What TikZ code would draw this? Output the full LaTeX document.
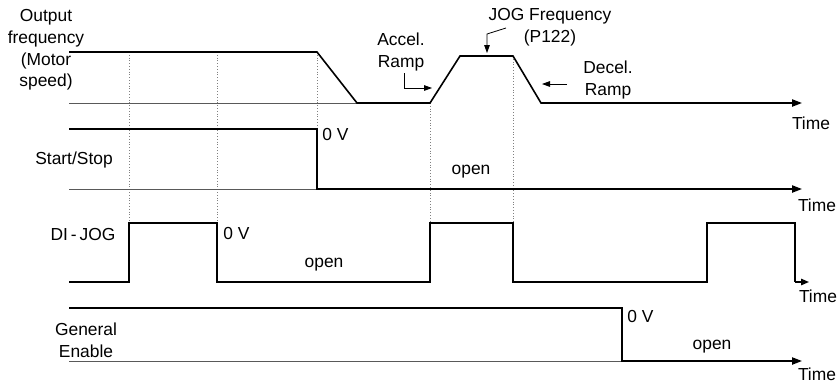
\documentclass[tikz,border=0pt]{standalone}
\usepackage{fontspec}
\setmainfont{Liberation Sans}
\usetikzlibrary{arrows.meta}

\tikzset{
  sig/.style={line width=0.8pt},
  axisline/.style={line width=0.4pt,gray!70!black},
  guide/.style={densely dotted,line width=0.4pt,gray},
  timearrow/.style={-{Triangle[length=5pt,width=3.6pt]}},
  annot/.style={line width=0.4pt,-{Triangle[length=4pt,width=2.8pt]}},
  lbl/.style={font=\fontsize{8.7}{10.8}\selectfont,inner sep=1pt,align=center},
}

\begin{document}
\begin{tikzpicture}[x=0.5pt,y=-0.5pt]
\useasboundingbox (0,0) rectangle (839,387);

% guide lines
\draw[guide] (129,52) -- (129,223);
\draw[guide] (217,52) -- (217,223);
\draw[guide] (317,52) -- (317,129);
\draw[guide] (430,103) -- (430,223);
\draw[guide] (513,56) -- (513,223);

% output frequency
\draw[axisline] (69,103) -- (357,103);
\draw[sig,timearrow] (69,52) -- (317,52) -- (357,103) -- (430,103) -- (460,56)
  -- (513,56) -- (541,103) -- (802,103);

% start/stop
\draw[axisline] (69,189) -- (317,189);
\draw[sig,timearrow] (69,129) -- (317,129) -- (317,189) -- (802,189);

% DI-JOG
\draw[sig] (69,282) -- (129,282) -- (129,223) -- (217,223) -- (217,282)
  -- (430,282) -- (430,223) -- (513,223) -- (513,282) -- (707,282) -- (707,223)
  -- (795,223) -- (795,282);
\draw[sig,-{Triangle[length=4pt,width=3.2pt]}] (795,282) -- (809,282);

% general enable
\draw[axisline] (69,361) -- (622,361);
\draw[sig,timearrow] (69,308) -- (622,308) -- (622,361) -- (802,361);

\node[lbl] (outfreq) at (46,50) {Output\\frequency\\(Motor\\speed)};
\node[lbl] (startstop) at (74,160) {Start/Stop};
\node[lbl] (dijog) at (83,235) {DI\,-\,JOG};
\node[lbl] (genable) at (86,340) {General\\Enable};

\node[lbl,anchor=west] (ssvolt) at (320,135) {0 V};
\node[lbl,anchor=west] (jogvolt) at (221,233) {0 V};
\node[lbl,anchor=west] (gevolt) at (625,316) {0 V};

\node[lbl] (ssopen) at (471,172) {open};
\node[lbl] (jogopen) at (324,265) {open};
\node[lbl] (geopen) at (712,347) {open};

\node[lbl] (time1) at (811,123) {Time};
\node[lbl] (time2) at (817,205) {Time};
\node[lbl] (time3) at (818,296) {Time};
\node[lbl] (time4) at (817,374) {Time};

\node[lbl] (accel) at (401,52) {Accel.\\Ramp};
\node[lbl] (jogfreq) at (550,27) {JOG Frequency\\(P122)};
\node[lbl] (decel) at (608,80) {Decel.\\Ramp};

% annotation arrows
\coordinate (accelpt) at (432,88);
\coordinate (jogstart) at (506,28);
\coordinate (jogbend) at (487,34);
\coordinate (jogpt) at (487,53);
\coordinate (decelstart) at (567,84);
\coordinate (decelpt) at (542,84);

\draw[annot] (accel.south -| 404,0) |- (accelpt);
\draw[annot] (jogstart) -- (jogbend) -- (jogpt);
\draw[annot] (decelstart) -- (decelpt);
\end{tikzpicture}
\end{document}
